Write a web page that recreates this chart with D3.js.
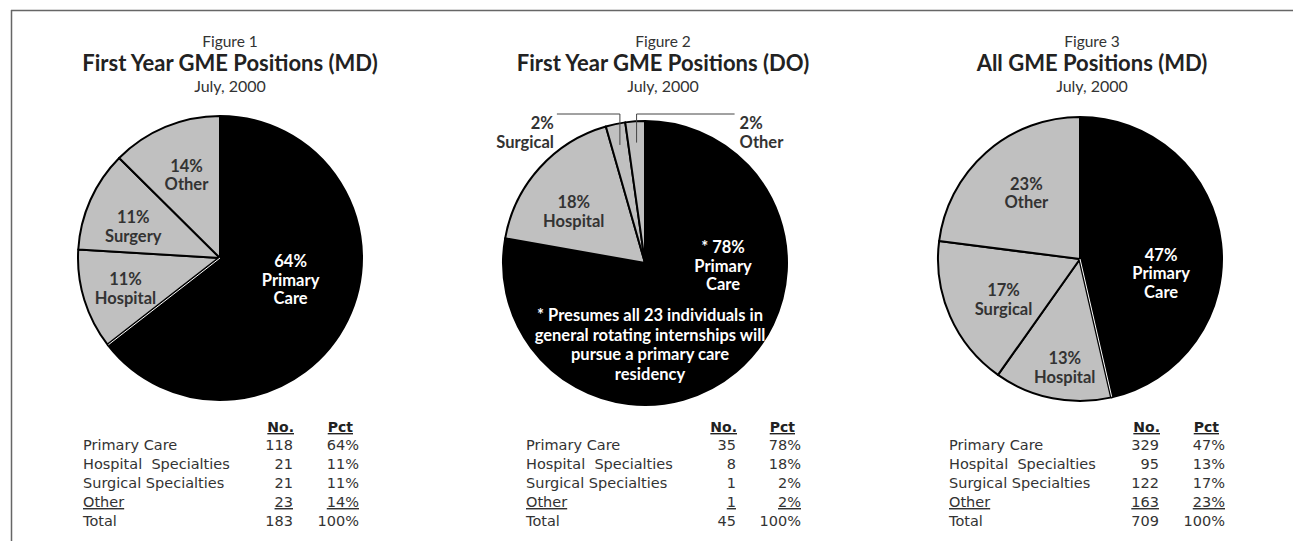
<!DOCTYPE html>
<html>
<head>
<meta charset="utf-8">
<script src="https://cdn.jsdelivr.net/npm/d3@7"></script>
<style>
  html, body { margin: 0; padding: 0; background: #fff; }
  svg { display: block; }
  text { font-family: Lato, "Open Sans", sans-serif; }
  text.tbl { font-family: "DejaVu Sans", sans-serif; }
</style>
</head>
<body>
<svg id="chart" width="1293" height="541"></svg>
<script>
// ---------------- DATA ----------------
const categories = ["Primary Care", "Hospital  Specialties", "Surgical Specialties", "Other"];
const figureNames = ["Figure 1", "Figure 2", "Figure 3"];
const titles = ["First Year GME Positions (MD)", "First Year GME Positions (DO)", "All GME Positions (MD)"];
const subtitle = "July, 2000";

const countsMD1 = [118, 21, 21, 23];
const countsDO1 = [35, 8, 1, 1];
const countsMDAll = [329, 95, 122, 163];

const pctMD1 = ["64%", "11%", "11%", "14%"];
const pctDO1 = ["78%", "18%", "2%", "2%"];
const pctMDAll = ["47%", "13%", "17%", "23%"];

const totalsCount = [183, 45, 709];
const totalPct = "100%";

const sliceNamesMD1 = [["Primary", "Care"], ["Hospital"], ["Surgery"], ["Other"]];
const sliceNamesDO1 = [["Primary", "Care"], ["Hospital"], ["Surgical"], ["Other"]];
const sliceNamesMDAll = [["Primary", "Care"], ["Hospital"], ["Surgical"], ["Other"]];
const primaryPrefixDO1 = "* ";
const footnoteDO1 = ["* Presumes all 23 individuals in", "general rotating internships will", "pursue a primary care", "residency"];

// ---------------- LAYOUT ----------------
const svg = d3.select("#chart");
const R = 142;
const panels = [
  { counts: countsMD1, pct: pctMD1, names: sliceNamesMD1, cx: 220, cy: 258, tx: 230,
    tableX: 83, noX: 293, pctX: 359,
    labelPolar: [[107, 0.52], [252, 0.70], [290, 0.65], [338, 0.63]], outside: [] },
  { counts: countsDO1, pct: pctDO1, names: sliceNamesDO1, cx: 645, cy: 263, tx: 663,
    tableX: 526, noX: 736, pctX: 801,
    labelPolar: [[92, 0.55], [306, 0.62], null, null], outside: [2, 3] },
  { counts: countsMDAll, pct: pctMDAll, names: sliceNamesMDAll, cx: 1080, cy: 259, tx: 1092,
    tableX: 949, noX: 1159, pctX: 1225,
    labelPolar: [[100, 0.58], [188, 0.77], [242, 0.61], [321, 0.60]], outside: [] }
];

const fills = ["#000000", "#c0c0c0", "#c0c0c0", "#c0c0c0"];
const labelColors = ["#ffffff", "#333333", "#333333", "#333333"];

// frame
svg.append("line").attr("x1", 11).attr("x2", 1293).attr("y1", 10.5).attr("y2", 10.5)
  .attr("stroke", "#666").attr("stroke-width", 1.5);
svg.append("line").attr("x1", 11.5).attr("x2", 11.5).attr("y1", 10).attr("y2", 541)
  .attr("stroke", "#666").attr("stroke-width", 1.5);

const pie = d3.pie().sort(null).value(d => d);
const arc = d3.arc().innerRadius(0).outerRadius(R);

function polar(cx, cy, deg, r) {
  const a = deg * Math.PI / 180;
  return [cx + r * Math.sin(a), cy - r * Math.cos(a)];
}

panels.forEach((p, i) => {
  // titles
  svg.append("text").attr("x", p.tx).attr("y", 47).attr("text-anchor", "middle")
    .attr("font-size", 15.5).attr("fill", "#333").text(figureNames[i]);
  svg.append("text").attr("x", p.tx).attr("y", 71).attr("text-anchor", "middle")
    .attr("font-size", 22).attr("font-weight", "bold").attr("fill", "#222").text(titles[i]);
  svg.append("text").attr("x", p.tx).attr("y", 92).attr("text-anchor", "middle")
    .attr("font-size", 16).attr("fill", "#333").text(subtitle);

  const g = svg.append("g").attr("transform", `translate(${p.cx},${p.cy})`);
  const arcs = pie(p.counts);
  g.selectAll("path").data(arcs).join("path")
    .attr("d", arc)
    .attr("fill", (d, j) => fills[j])
    .attr("stroke", "#000").attr("stroke-width", 2).attr("stroke-linejoin", "round");

  // white separator between Primary Care and the next slice (double rule)
  if (i !== 1) {
    const a = arcs[0].endAngle;
    const ex = R * Math.sin(a), ey = -R * Math.cos(a);
    g.append("line").attr("x1", 0).attr("y1", 0).attr("x2", ex).attr("y2", ey)
      .attr("stroke", "#000").attr("stroke-width", 3.5);
    g.append("line").attr("x1", 0).attr("y1", 0).attr("x2", ex * 0.995).attr("y2", ey * 0.995)
      .attr("stroke", "#fff").attr("stroke-width", 1);
  }

  // inside labels
  arcs.forEach((d, j) => {
    const lp = p.labelPolar[j];
    if (!lp) return;
    const [x, y] = polar(p.cx, p.cy, lp[0], lp[1] * R);
    let lines = [(i === 1 && j === 0 ? primaryPrefixDO1 : "") + p.pct[j]].concat(p.names[j]);
    const lh = 18.5;
    const t = svg.append("text").attr("text-anchor", "middle").attr("font-size", 16.5)
      .attr("font-weight", "bold").attr("fill", labelColors[j]);
    lines.forEach((ln, k) => {
      t.append("tspan").attr("x", x)
        .attr("y", y + (k - (lines.length - 1) / 2) * lh + 6).text(ln);
    });
  });

  // outside labels with leader lines (DO chart small slices)
  p.outside.forEach(j => {
    const d = arcs[j];
    const mid = (d.startAngle + d.endAngle) / 2 * 180 / Math.PI;
    const [px, py] = polar(p.cx, p.cy, mid, R * 0.85);
    const yTop = p.cy - R - 7;
    const left = j === 2;
    const xEnd = left ? px - 63 : px + 98;
    svg.append("polyline")
      .attr("points", `${px},${py} ${px},${yTop} ${xEnd},${yTop}`)
      .attr("fill", "none").attr("stroke", "#444").attr("stroke-width", 1);
    const t = svg.append("text").attr("text-anchor", left ? "end" : "start")
      .attr("font-size", 16.5).attr("font-weight", "bold").attr("fill", "#333");
    const lx = left ? xEnd - 3 : xEnd + 5;
    [p.pct[j], p.names[j][0]].forEach((ln, k) => {
      t.append("tspan").attr("x", lx).attr("y", yTop + 15 + k * 19).text(ln);
    });
  });

  // footnote (DO chart)
  if (i === 1) {
    const t = svg.append("text").attr("text-anchor", "middle").attr("font-size", 16.5)
      .attr("font-weight", "bold").attr("fill", "#fff");
    footnoteDO1.forEach((ln, k) => {
      t.append("tspan").attr("x", p.cx + 5).attr("y", 321 + k * 19.5).text(ln);
    });
  }

  // table
  const rowY = d3.scaleLinear().domain([0, 1]).range([450, 469]);
  const hdrY = 432;
  svg.append("text").attr("class", "tbl").attr("x", p.noX + 1).attr("y", hdrY).attr("text-anchor", "end")
    .attr("font-size", 14).attr("font-weight", "bold").attr("fill", "#222")
    .attr("text-decoration", "underline").text("No.");
  svg.append("text").attr("class", "tbl").attr("x", p.pctX - 6).attr("y", hdrY).attr("text-anchor", "end")
    .attr("font-size", 14).attr("font-weight", "bold").attr("fill", "#222")
    .attr("text-decoration", "underline").text("Pct");
  const rows = categories.map((c, j) => ({ name: c, n: p.counts[j], pct: p.pct[j], ul: j === 3 }))
    .concat([{ name: "Total", n: totalsCount[i], pct: totalPct, ul: false }]);
  rows.forEach((r, j) => {
    const y = rowY(j);
    const deco = r.ul ? "underline" : "none";
    svg.append("text").attr("class", "tbl").attr("x", p.tableX).attr("y", y).attr("font-size", 14.5).attr("fill", "#333")
      .attr("text-decoration", deco).style("white-space", "pre").text(r.name);
    svg.append("text").attr("class", "tbl").attr("x", p.noX).attr("y", y).attr("text-anchor", "end").attr("font-size", 14.5)
      .attr("fill", "#333").attr("text-decoration", deco).text(r.n);
    svg.append("text").attr("class", "tbl").attr("x", p.pctX).attr("y", y).attr("text-anchor", "end").attr("font-size", 14.5)
      .attr("fill", "#333").attr("text-decoration", deco).text(r.pct);
  });
});
</script>
</body>
</html>
